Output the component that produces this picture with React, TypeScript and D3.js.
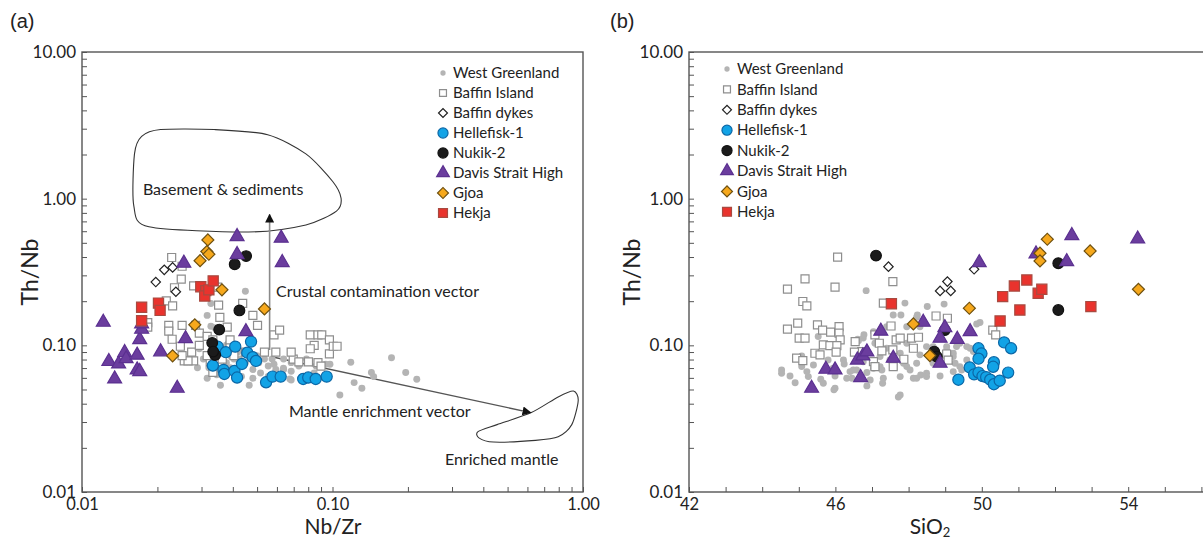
import React, { useEffect, useRef } from "react";
import * as d3 from "d3";

type Pt = [number, number];

// ---- panel (a): Nb/Zr (x) vs Th/Nb (y) ----
const aWestGreenland: Pt[] = [
  [0.1183, 0.0767], [0.172, 0.0824], [0.196, 0.0652], [0.217, 0.0587], [0.143, 0.0652], [0.146, 0.0612],
  [0.122, 0.0557], [0.131, 0.051], [0.107, 0.0459], [0.0977, 0.0743], [0.0676, 0.059], [0.0637, 0.0698],
  [0.0449, 0.234], [0.0327, 0.193], [0.0316, 0.16], [0.0339, 0.132], [0.0294, 0.0948], [0.0289, 0.0703],
  [0.0316, 0.0597], [0.0357, 0.0535], [0.0333, 0.0722], [0.0377, 0.0762], [0.0404, 0.0648], [0.0465, 0.0535],
  [0.0449, 0.0762], [0.0481, 0.0684], [0.0516, 0.0648], [0.0554, 0.0722], [0.0574, 0.0806], [0.0535, 0.0806],
  [0.0499, 0.0851], [0.0465, 0.0851], [0.0433, 0.0722], [0.039, 0.0703], [0.0363, 0.0851], [0.0351, 0.0948],
  [0.0418, 0.09], [0.0377, 0.1], [0.0339, 0.106], [0.0554, 0.0613], [0.0594, 0.0684], [0.0638, 0.0684],
  [0.0684, 0.058], [0.076, 0.0613], [0.0845, 0.0648], [0.0684, 0.0762], [0.0734, 0.0722], [0.0787, 0.0806],
  [0.094, 0.0743], [0.0433, 0.0613], [0.0481, 0.0597], [0.0321, 0.0703], [0.0305, 0.0806], [0.0404, 0.0806],
  [0.0638, 0.0806], [0.0684, 0.0666], [0.086, 0.0722], [0.0327, 0.135], [0.0345, 0.063], [0.039, 0.0851],
  [0.0425, 0.0806], [0.0508, 0.0762], [0.0584, 0.0743], [0.0363, 0.0666],
];
const aBaffinIsland: Pt[] = [
  [0.0228, 0.397], [0.0251, 0.346], [0.0249, 0.283], [0.0279, 0.254], [0.0234, 0.247], [0.0217, 0.201],
  [0.023, 0.186], [0.0183, 0.143], [0.0183, 0.133], [0.0222, 0.137], [0.0251, 0.137], [0.0284, 0.137],
  [0.0222, 0.125], [0.0229, 0.11], [0.0247, 0.0986], [0.0256, 0.0783], [0.0274, 0.09], [0.0294, 0.121],
  [0.0316, 0.115], [0.0333, 0.109], [0.0325, 0.0771], [0.0333, 0.0655], [0.0351, 0.188], [0.0355, 0.155],
  [0.038, 0.133], [0.0348, 0.249], [0.0438, 0.193], [0.0481, 0.16], [0.0502, 0.137], [0.0584, 0.118],
  [0.0615, 0.127], [0.0594, 0.09], [0.0697, 0.0806], [0.0684, 0.09], [0.0815, 0.118], [0.0875, 0.118],
  [0.0906, 0.118], [0.0845, 0.1], [0.0815, 0.0948], [0.0875, 0.0762], [0.09, 0.0722], [0.0972, 0.109],
  [0.0972, 0.0875], [0.1007, 0.0986], [0.1043, 0.0986], [0.0802, 0.0771], [0.0734, 0.0771], [0.039, 0.1],
  [0.0404, 0.0851], [0.0279, 0.0783], [0.0265, 0.0783], [0.0251, 0.0851], [0.0316, 0.0851], [0.0363, 0.0806],
  [0.039, 0.109], [0.0294, 0.1], [0.0449, 0.09], [0.0535, 0.09],
];
const aBaffinDykes: Pt[] = [[0.0213, 0.327], [0.023, 0.34], [0.0197, 0.27], [0.0237, 0.232]];
const aHellefisk: Pt[] = [
  [0.0348, 0.098], [0.0375, 0.0898], [0.0409, 0.098], [0.0473, 0.106], [0.0457, 0.0891], [0.048, 0.083],
  [0.0495, 0.0783], [0.0333, 0.0728], [0.0367, 0.068], [0.037, 0.0638], [0.0406, 0.0669], [0.0435, 0.0746],
  [0.0416, 0.0603], [0.0543, 0.056], [0.0576, 0.0612], [0.0621, 0.0612], [0.0764, 0.059], [0.08, 0.0603],
  [0.0857, 0.059], [0.0948, 0.0612],
];
const aNukik: Pt[] = [
  [0.0407, 0.357], [0.0452, 0.406], [0.0425, 0.173], [0.0353, 0.128], [0.0331, 0.104], [0.034, 0.086], [0.0334, 0.0906],
];
const aDavis: Pt[] = [
  [0.01216, 0.1437], [0.0128, 0.0776], [0.014, 0.0747], [0.0148, 0.0893], [0.015, 0.0811], [0.0135, 0.059],
  [0.0166, 0.0857], [0.0166, 0.068], [0.017, 0.0662], [0.017, 0.1094], [0.0173, 0.1288], [0.0173, 0.14],
  [0.0206, 0.0903], [0.024, 0.051], [0.0255, 0.363], [0.0259, 0.111], [0.0416, 0.552], [0.0416, 0.416],
  [0.0624, 0.538], [0.063, 0.367], [0.0451, 0.124],
];
const aGjoa: Pt[] = [
  [0.0318, 0.523], [0.0315, 0.436], [0.0321, 0.418], [0.0296, 0.378], [0.0362, 0.239], [0.0535, 0.177],
  [0.0282, 0.138], [0.023, 0.0848],
];
const aHekja: Pt[] = [
  [0.0173, 0.182], [0.0173, 0.147], [0.0202, 0.194], [0.0205, 0.173], [0.0298, 0.251], [0.0312, 0.236],
  [0.0309, 0.217], [0.0321, 0.239], [0.0334, 0.275],
];

// outlines and vectors of panel (a), in data units
const basementOutline: Pt[] = [
  [0.0162, 2.02], [0.0161, 0.893], [0.0185, 0.643], [0.0462, 0.593], [0.0783, 0.662], [0.1037, 0.822],
  [0.1082, 1.007], [0.1002, 1.31], [0.0783, 2.02], [0.0551, 2.73], [0.0337, 2.96], [0.0206, 2.96], [0.0173, 2.66],
];
const enrichedOutline: Pt[] = [
  [0.381, 0.0258], [0.454, 0.0288], [0.622, 0.0348], [0.796, 0.0445], [0.916, 0.0488], [0.957, 0.0421],
  [0.902, 0.0288], [0.796, 0.0238], [0.646, 0.0225], [0.439, 0.0219], [0.384, 0.0234],
];
const crustalVector: Pt[] = [[0.0561, 0.0929], [0.0561, 0.78]];
const mantleVector: Pt[] = [[0.0577, 0.0832], [0.618, 0.0348]];
const aNotes: { text: string; at: Pt }[] = [
  { text: "Basement & sediments", at: [0.0175, 1.06] },
  { text: "Crustal contamination vector", at: [0.0595, 0.214] },
  { text: "Mantle enrichment vector", at: [0.067, 0.0325] },
  { text: "Enriched mantle", at: [0.281, 0.0153] },
];

// ---- panel (b): SiO2 (x) vs Th/Nb (y) ----
const bWestGreenland: Pt[] = [
  [46.84, 0.236], [47.9, 0.194], [48.24, 0.161], [48.97, 0.191], [48.51, 0.184], [47.79, 0.161],
  [46.76, 0.112], [46.61, 0.11], [45.53, 0.1147], [44.53, 0.068], [44.53, 0.0645], [45.22, 0.0662],
  [45.26, 0.0612], [45.6, 0.0587], [45.67, 0.0552], [45.99, 0.051], [46.4, 0.0662], [46.58, 0.068],
  [46.86, 0.0652], [47.04, 0.0698], [47.27, 0.068], [47.31, 0.0597], [47.29, 0.0552], [47.77, 0.0459],
  [47.77, 0.0612], [48.13, 0.0597], [48.33, 0.0628], [48.49, 0.0645], [48.86, 0.0618], [49.22, 0.0662],
  [49.4, 0.0716], [49.59, 0.0794], [48.67, 0.0755], [48.22, 0.0755], [47.95, 0.0716], [46.22, 0.0794],
  [45.94, 0.0698], [46.45, 0.0597], [46.86, 0.0529], [45.99, 0.0618], [45.08, 0.0716], [45.4, 0.0735],
  [46.76, 0.0774], [47.77, 0.0883], [47.22, 0.0838], [47.04, 0.124], [47.4, 0.134], [47.95, 0.134],
  [48.31, 0.134], [48.67, 0.098], [49.04, 0.098], [49.4, 0.1033], [49.59, 0.098], [49.22, 0.0883],
  [49.77, 0.0906], [49.63, 0.0698], [46.31, 0.0597], [46.49, 0.068], [46.63, 0.1076], [46.78, 0.118],
  [46.24, 0.0746], [45.08, 0.0847], [47.58, 0.161], [48.22, 0.1556], [49.95, 0.1429], [47.08, 0.1033],
  [47.4, 0.0955], [47.95, 0.1033], [48.49, 0.098], [49.31, 0.098], [49.68, 0.0955], [49.95, 0.093],
  [47.22, 0.0716], [47.86, 0.0755], [48.04, 0.068], [48.49, 0.0612], [48.22, 0.0597], [49.45, 0.068],
  [49.22, 0.0838], [49.04, 0.093], [46.95, 0.058], [49.86, 0.14], [47.72, 0.0445], [45.96, 0.0497],
  [47.49, 0.0794], [48.31, 0.0861], [48.86, 0.0833], [49.27, 0.0755], [45.8, 0.0794], [44.76, 0.0618],
  [44.9, 0.0555],
];
const bBaffinIsland: Pt[] = [
  [46.06, 0.399], [45.17, 0.284], [45.99, 0.249], [44.69, 0.242], [47.57, 0.272], [45.11, 0.199],
  [45.22, 0.186], [47.31, 0.194], [44.69, 0.129], [44.97, 0.1415], [45.51, 0.1377], [45.65, 0.127],
  [45.87, 0.123], [46.1, 0.134], [46.1, 0.121], [46.13, 0.109], [45.01, 0.112], [45.17, 0.112],
  [45.67, 0.1007], [45.85, 0.0995], [46.04, 0.0995], [44.94, 0.0817], [45.11, 0.0787], [45.44, 0.0883],
  [45.58, 0.0861], [46.02, 0.0898], [46.54, 0.106], [46.72, 0.0906], [47.08, 0.118], [47.2, 0.1033],
  [47.27, 0.0916], [47.52, 0.1355], [47.66, 0.109], [47.77, 0.112], [47.57, 0.093], [48.08, 0.112],
  [48.27, 0.1135], [48.75, 0.1585], [49.06, 0.153], [49.04, 0.0873], [49.08, 0.0794], [48.13, 0.0955],
  [47.87, 0.0804], [47.04, 0.0774], [47.08, 0.0716], [47.58, 0.0716], [50.3, 0.127], [50.38, 0.118],
  [46.52, 0.0898],
];
const bBaffinDykes: Pt[] = [[47.45, 0.344], [49.06, 0.272], [48.86, 0.235], [49.15, 0.235], [49.79, 0.33]];
const bHellefisk: Pt[] = [
  [49.36, 0.0583], [49.67, 0.0707], [49.91, 0.0955], [49.99, 0.0879], [49.91, 0.0811], [49.79, 0.0634],
  [49.91, 0.0652], [50.02, 0.0617], [50.12, 0.0607], [50.23, 0.0583], [50.33, 0.0543], [50.49, 0.0574],
  [50.33, 0.0767], [50.31, 0.0714], [50.61, 0.1047], [50.8, 0.0955], [50.72, 0.0652],
];
const bNukik: Pt[] = [[52.09, 0.363], [52.09, 0.174], [47.11, 0.409], [48.99, 0.127], [48.7, 0.0906], [48.77, 0.0838]];
const bDavis: Pt[] = [
  [45.35, 0.051], [45.74, 0.0687], [45.99, 0.068], [46.69, 0.0603], [46.6, 0.0794], [46.75, 0.0847],
  [46.86, 0.0902], [47.24, 0.125], [48.4, 0.1437], [48.99, 0.132], [49.68, 0.124], [49.33, 0.11],
  [48.86, 0.112], [48.86, 0.0755], [47.58, 0.0817], [49.93, 0.366], [51.48, 0.42], [52.32, 0.372],
  [52.46, 0.56], [54.26, 0.531],
];
const bGjoa: Pt[] = [
  [51.79, 0.529], [51.59, 0.425], [51.59, 0.376], [52.96, 0.44], [54.28, 0.241], [49.66, 0.179],
  [48.13, 0.14], [48.58, 0.0851],
];
const bHekja: Pt[] = [
  [50.57, 0.215], [50.89, 0.254], [51.23, 0.279], [51.54, 0.2265], [51.64, 0.241], [51.04, 0.174],
  [50.5, 0.1466], [52.98, 0.1837], [47.53, 0.192],
];

const legendNames = [
  "West Greenland", "Baffin Island", "Baffin dykes", "Hellefisk-1",
  "Nukik-2", "Davis Strait High", "Gjoa", "Hekja",
];
const yTickMajors = [0.01, 0.1, 1, 10];
const aXTickMajors = [0.01, 0.1, 1];
const bXTickMajors = [42, 46, 50, 54];

const FONT = "Lato, 'Open Sans', sans-serif";
const AXIS = "#555";

// marker look for each series
const styles: Record<string, any> = {
  "West Greenland": { type: d3.symbolCircle, size: 38, lsize: 22, fill: "#b4b4b4", stroke: "none", rot: 0 },
  "Baffin Island": { type: d3.symbolSquare, size: 64, lsize: 48, fill: "#fff", stroke: "#8e8e8e", rot: 0 },
  "Baffin dykes": { type: d3.symbolSquare, size: 44, lsize: 40, fill: "#fff", stroke: "#222", rot: 45 },
  "Hellefisk-1": { type: d3.symbolCircle, size: 98, lsize: 80, fill: "#12a3e6", stroke: "#0b67a6", rot: 0 },
  "Nukik-2": { type: d3.symbolCircle, size: 90, lsize: 80, fill: "#1b1b1b", stroke: "#111", rot: 0 },
  "Davis Strait High": { type: d3.symbolTriangle, size: 84, lsize: 70, fill: "#6b3d9e", stroke: "#5b3090", rot: 0 },
  Gjoa: { type: d3.symbolSquare, size: 72, lsize: 60, fill: "#f6a81c", stroke: "#6e5010", rot: 45 },
  Hekja: { type: d3.symbolSquare, size: 104, lsize: 80, fill: "#e9332d", stroke: "#a84a40", rot: 0 },
};

function isMajor(v: number, majors: number[]) {
  return majors.some((m) => Math.abs(m - v) / m < 1e-6);
}

function drawPanel(svg: any, p: any) {
  const { x, y } = p;
  const [x0, x1] = x.range();
  const [yb, yt] = y.range();
  const g = svg.append("g");

  // y axis, ticks pointing inward
  g.append("g")
    .attr("transform", `translate(${x0},0)`)
    .call(
      d3.axisLeft(y)
        .tickValues(y.ticks())
        .tickSizeInner(-5)
        .tickSizeOuter(0)
        .tickPadding(6)
        .tickFormat((d: any) => (isMajor(d, yTickMajors) ? d3.format(".2f")(d) : ""))
    )
    .call((a: any) => a.select(".domain").remove())
    .call((a: any) => a.selectAll(".tick line").attr("stroke", AXIS))
    .call((a: any) =>
      a.selectAll("text").attr("font-family", FONT).attr("font-size", 17).attr("fill", "#222")
    );

  // x axis
  g.append("g")
    .attr("transform", `translate(0,${yb})`)
    .call(
      d3.axisBottom(x)
        .tickValues(p.xTicks)
        .tickSizeInner(-5)
        .tickSizeOuter(0)
        .tickPadding(6)
        .tickFormat(p.xFormat)
    )
    .call((a: any) => a.select(".domain").remove())
    .call((a: any) => a.selectAll(".tick line").attr("stroke", AXIS))
    .call((a: any) =>
      a.selectAll("text").attr("font-family", FONT).attr("font-size", 16.5).attr("fill", "#222")
    );

  g.append("rect")
    .attr("x", x0)
    .attr("y", yt)
    .attr("width", x1 - x0)
    .attr("height", yb - yt)
    .attr("fill", "none")
    .attr("stroke", AXIS)
    .attr("stroke-width", 1.4);

  if (p.extras) p.extras(g, x, y);

  // points
  p.series.forEach(([name, pts]: [string, Pt[]]) => {
    const s = styles[name];
    g.append("g")
      .selectAll("path")
      .data(pts)
      .join("path")
      .attr("transform", (d: Pt) => `translate(${x(d[0])},${y(d[1])}) rotate(${s.rot})`)
      .attr("d", d3.symbol().type(s.type).size(s.size)())
      .attr("fill", s.fill)
      .attr("stroke", s.stroke)
      .attr("stroke-width", 1.2);
  });

  // legend
  const lg = g.append("g").attr("transform", `translate(${p.legend.x},${p.legend.y})`);
  legendNames.forEach((name, i) => {
    const s = styles[name];
    lg.append("path")
      .attr("transform", `translate(0,${i * p.legend.dy}) rotate(${s.rot})`)
      .attr("d", d3.symbol().type(s.type).size(s.lsize)())
      .attr("fill", s.fill)
      .attr("stroke", s.stroke)
      .attr("stroke-width", 1.2);
    lg.append("text")
      .attr("x", 10)
      .attr("y", i * p.legend.dy)
      .attr("dy", "0.35em")
      .attr("font-family", FONT)
      .attr("font-size", 15)
      .attr("fill", "#222")
      .text(name);
  });

  // panel letter
  g.append("text")
    .attr("x", p.letterX)
    .attr("y", 28)
    .attr("font-family", "'Liberation Sans', Arial, sans-serif")
    .attr("font-size", 20)
    .attr("fill", "#222")
    .text(p.letter);

  // y title
  g.append("text")
    .attr("transform", `translate(${p.yTitleX},${(yb + yt) / 2}) rotate(-90)`)
    .attr("text-anchor", "middle")
    .attr("font-family", FONT)
    .attr("font-size", 23)
    .attr("fill", "#222")
    .text("Th/Nb");

  // x title
  const xt = g.append("text")
    .attr("x", p.xTitleX)
    .attr("y", 534)
    .attr("text-anchor", "middle")
    .attr("font-family", FONT)
    .attr("font-size", 21)
    .attr("fill", "#222");
  if (p.xTitle === "SiO2") {
    xt.append("tspan").text("SiO");
    xt.append("tspan").attr("font-size", 13).attr("dy", 3).text("2");
  } else {
    xt.text(p.xTitle);
  }
}

function panelAExtras(g: any, x: any, y: any) {
  const defs = g.append("defs");
  defs.append("marker")
    .attr("id", "arrowHead")
    .attr("viewBox", "0 0 10 10")
    .attr("refX", 9)
    .attr("refY", 5)
    .attr("markerWidth", 9)
    .attr("markerHeight", 9)
    .attr("markerUnits", "userSpaceOnUse")
    .attr("orient", "auto")
    .append("path")
    .attr("d", "M0,0 L10,5 L0,10 Z")
    .attr("fill", "#111");

  const closed = d3.line<Pt>().x((d) => x(d[0])).y((d) => y(d[1])).curve(d3.curveCardinalClosed.tension(0.2));
  [basementOutline, enrichedOutline].forEach((o) =>
    g.append("path").attr("d", closed(o)).attr("fill", "none").attr("stroke", "#333").attr("stroke-width", 1.1)
  );

  const straight = d3.line<Pt>().x((d) => x(d[0])).y((d) => y(d[1]));
  g.append("path")
    .attr("d", straight(crustalVector))
    .attr("stroke", "#8a8a8a")
    .attr("stroke-width", 1.6)
    .attr("marker-end", "url(#arrowHead)");
  g.append("path")
    .attr("d", straight(mantleVector))
    .attr("stroke", "#555")
    .attr("stroke-width", 1.4)
    .attr("marker-end", "url(#arrowHead)");

  aNotes.forEach((n) =>
    g.append("text")
      .attr("x", x(n.at[0]))
      .attr("y", y(n.at[1]))
      .attr("font-family", FONT)
      .attr("font-size", 16)
      .attr("fill", "#222")
      .text(n.text)
  );
}

const yRange = [492, 52];

export default function App() {
  const ref = useRef<SVGSVGElement>(null);

  useEffect(() => {
    const svg = d3.select(ref.current);
    svg.selectAll("*").remove();

    const ax = d3.scaleLog().domain([0.01, 1]).range([82, 583]);
    const ay = d3.scaleLog().domain([0.01, 10]).range(yRange);
    drawPanel(svg, {
      x: ax,
      y: ay,
      xTicks: ax.ticks(),
      xFormat: (d: any) => (isMajor(d, aXTickMajors) ? d3.format(".2f")(d) : ""),
      extras: panelAExtras,
      series: [
        ["West Greenland", aWestGreenland],
        ["Baffin Island", aBaffinIsland],
        ["Baffin dykes", aBaffinDykes],
        ["Hellefisk-1", aHellefisk],
        ["Nukik-2", aNukik],
        ["Davis Strait High", aDavis],
        ["Gjoa", aGjoa],
        ["Hekja", aHekja],
      ],
      legend: { x: 443, y: 73, dy: 20 },
      letter: "(a)",
      letterX: 10,
      yTitleX: 38,
      xTitle: "Nb/Zr",
      xTitleX: 333,
    });

    const bx = d3.scaleLinear().domain([42, 58]).range([689, 689 + 16 * 36.6]);
    const by = d3.scaleLog().domain([0.01, 10]).range(yRange);
    drawPanel(svg, {
      x: bx,
      y: by,
      xTicks: d3.range(42, 59),
      xFormat: (d: any) => (bXTickMajors.includes(d) ? String(d) : ""),
      series: [
        ["West Greenland", bWestGreenland],
        ["Baffin Island", bBaffinIsland],
        ["Baffin dykes", bBaffinDykes],
        ["Hellefisk-1", bHellefisk],
        ["Nukik-2", bNukik],
        ["Davis Strait High", bDavis],
        ["Gjoa", bGjoa],
        ["Hekja", bHekja],
      ],
      legend: { x: 727, y: 69, dy: 20.4 },
      letter: "(b)",
      letterX: 610,
      yTitleX: 640,
      xTitle: "SiO2",
      xTitleX: 930,
    });
  }, []);

  return (
    <div style={{ position: "absolute", left: 0, top: 0 }}>
      <svg ref={ref} width={1203} height={541} style={{ display: "block", background: "#fff" }} />
    </div>
  );
}
